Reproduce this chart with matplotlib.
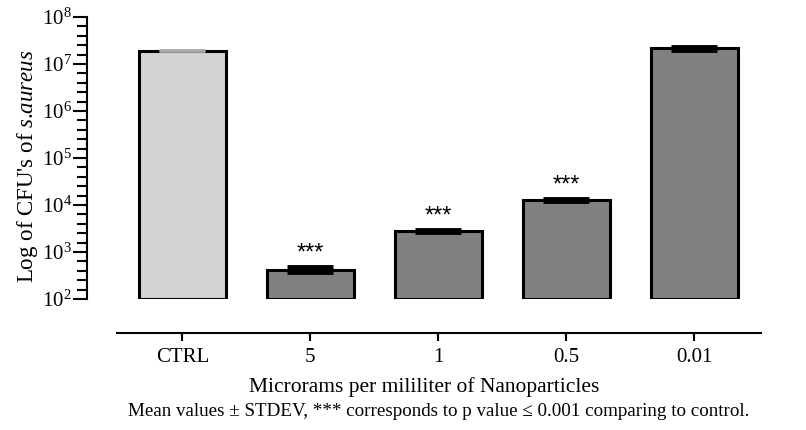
import matplotlib
matplotlib.use("Agg")
import matplotlib.pyplot as plt
import matplotlib.ticker as mticker
import numpy as np

plt.rcParams["font.family"] = ["Liberation Serif", "DejaVu Serif"]
plt.rcParams["mathtext.fontset"] = "custom"
plt.rcParams["mathtext.rm"] = "Liberation Serif"
plt.rcParams["mathtext.it"] = "Liberation Serif:italic"

# data
groups = ["CTRL", "5", "1", "0.5", "0.01"]
cfu_mean = [1.9e7, 4.2e2, 2.75e3, 1.25e4, 2.15e7]
cfu_std = [4.0e5, 5.0e1, 1.2e2, 6.0e2, 1.5e6]
significance = ["", "***", "***", "***", ""]
bar_colors = ["#d3d3d3", "#808080", "#808080", "#808080", "#808080"]

fig = plt.figure(figsize=(8.06, 4.30), dpi=100)
ax = fig.add_axes([87 / 806, 1 - 299 / 430, (761 - 87) / 806, (299 - 17) / 430])

x = np.arange(len(groups))
base = 1e2
heights = np.asarray(cfu_mean) - base
ax.bar(x, heights, bottom=base, width=0.68, color=bar_colors,
       edgecolor="black", linewidth=2.2, zorder=2)

cap_colors = ["#a8a8a8", "k", "k", "k", "k"]
for xi, m, s, c in zip(x, cfu_mean, cfu_std, cap_colors):
    ax.errorbar(xi, m, yerr=s, fmt="none", ecolor=c, elinewidth=2.5,
                capsize=16.5, capthick=3.5 if c == "k" else 2.0, zorder=3)

for xi, m, s, lab in zip(x, cfu_mean, cfu_std, significance):
    if lab:
        ax.annotate(lab, (xi, m + s), xytext=(0, 10), textcoords="offset points",
                    ha="center", va="center", fontsize=17,
                    family=["Liberation Sans", "DejaVu Sans"])

ax.set_yscale("log")
ax.set_ylim(1e2, 1e8)
ax.set_xlim(-0.745, 4.52)
ax.yaxis.set_major_locator(mticker.FixedLocator([10.0 ** k for k in range(2, 9)]))
minor = [10.0 ** (k + j / 5) for k in range(2, 8) for j in range(1, 5)]
ax.yaxis.set_minor_locator(mticker.FixedLocator(minor))
ax.yaxis.set_minor_formatter(mticker.NullFormatter())
ax.yaxis.set_major_formatter(mticker.LogFormatterMathtext())

for side in ["top", "right"]:
    ax.spines[side].set_visible(False)
ax.spines["left"].set_linewidth(1.5)
ax.spines["bottom"].set_linewidth(1.5)
ax.spines["bottom"].set_position(("outward", 24.5))
ax.spines["bottom"].set_bounds(-0.51, 4.52)

ax.set_xticks(x)
ax.set_xticklabels(groups, fontsize=15)
ax.tick_params(axis="x", direction="out", length=5.5, width=1.5, pad=5.5)
ax.tick_params(axis="y", which="major", direction="out", length=10, width=1.5,
               labelsize=15, pad=1)
ax.tick_params(axis="y", which="minor", direction="out", length=7, width=1.5)

ax.set_ylabel(r"Log of CFU's of $\it{s}$.$\it{aureus}$", fontsize=16.5, labelpad=3)
ax.yaxis.set_label_coords(-0.069, 0.47)
ax.set_xlabel("Microrams per mililiter of Nanoparticles", fontsize=15.5, labelpad=7)

fig.text(439 / 806, 1 - 411 / 430,
         "Mean values \u00b1 STDEV, *** corresponds to p value \u2264 0.001 comparing to control.",
         ha="center", va="center", fontsize=13.7)

fig.savefig("out.png", dpi=100)
